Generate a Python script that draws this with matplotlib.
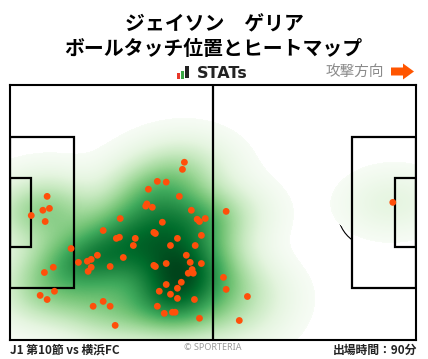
import numpy as np
import matplotlib
matplotlib.use("Agg")
import matplotlib.pyplot as plt
from matplotlib.patches import Rectangle, Arc, Circle, Polygon
from matplotlib.colors import PowerNorm

plt.rcParams['font.family'] = ['Noto Sans CJK JP', 'DejaVu Sans']

# ---- data (pitch metres: x 0-105 toward attack, y 0-68 from top) ----
touch_x = [45.1, 44.6, 38.1, 40.4, 35.8, 43.8, 9.6, 35.4, 35.1, 36.8,
           10.2, 8.5, 5.5, 46.9, 28.5, 48.4, 49.0, 50.5, 9.1, 39.4,
           24.1, 37.2, 37.6, 49.5, 28.3, 27.5, 32.4, 43.3, 31.9, 41.5,
           47.9, 15.8, 22.6, 29.3, 45.6, 17.7, 20.0, 21.0, 46.6, 49.5,
           40.4, 37.2, 37.6, 25.9, 21.0, 20.2, 11.2, 8.9, 47.1, 46.1,
           47.4, 44.3, 40.4, 43.3, 38.6, 11.5, 41.5, 7.8, 9.6, 43.3,
           47.7, 24.1, 21.5, 25.9, 38.1, 42.0, 42.7, 39.9, 49.0, 27.2,
           55.9, 55.2, 55.9, 61.4, 59.3, 99.0]
touch_y = [20.6, 22.5, 25.7, 25.9, 27.8, 29.7, 29.7, 31.7, 32.3, 32.6,
           32.9, 33.4, 34.8, 33.4, 35.6, 35.8, 36.4, 35.6, 36.4, 36.6,
           38.8, 39.3, 39.6, 40.1, 40.6, 40.9, 40.9, 40.9, 42.8, 42.8,
           42.8, 43.6, 45.4, 46.0, 45.4, 47.3, 47.0, 46.5, 47.3, 47.6,
           47.6, 48.1, 48.4, 48.4, 48.6, 49.7, 48.6, 50.0, 49.2, 50.2,
           50.2, 52.6, 53.2, 54.2, 55.0, 55.0, 55.8, 56.1, 57.2, 56.9,
           57.2, 57.7, 59.0, 59.0, 59.0, 60.6, 60.6, 60.9, 62.2, 64.1,
           33.7, 51.3, 54.5, 56.4, 62.8, 31.3]

player_name = "ジェイソン　ゲリア"
chart_title = "ボールタッチ位置とヒートマップ"
match_label = "J1 第10節 vs 横浜FC"
minutes_label = "出場時間：90分"

PITCH_L, PITCH_W = 105.0, 68.0

W, H = 428, 359
fig = plt.figure(figsize=(W / 100, H / 100), dpi=100)
fig.patch.set_facecolor('white')

# pitch axes (pixel box: x 10-416, y 85-340)
ax = fig.add_axes([10 / W, 1 - 340 / H, 406 / W, 255 / H])
ax.set_xticks([])
ax.set_yticks([])
for s in ax.spines.values():
    s.set_linewidth(1.5)
    s.set_color('black')
    s.set_zorder(6)

# KDE heat map
tx = np.asarray(touch_x)
ty = np.asarray(touch_y)
n = len(tx)
cov = np.cov(np.vstack([tx, ty])) * n ** (-2.0 / 6.0)
inv = np.linalg.inv(cov)
norm = 1.0 / (2 * np.pi * np.sqrt(np.linalg.det(cov)) * n)
NX, NY = 406, 255
gx, gy = np.meshgrid((np.arange(NX) + 0.5) * PITCH_L / NX, (np.arange(NY) + 0.5) * PITCH_W / NY)
Z = np.zeros_like(gx)
for px, py in zip(tx, ty):
    dx = gx - px
    dy = gy - py
    Z += np.exp(-0.5 * (inv[0, 0] * dx * dx + 2 * inv[0, 1] * dx * dy + inv[1, 1] * dy * dy))
Z *= norm
thresh = norm * np.exp(-0.5 * 4.3)
Zm = np.ma.masked_less(Z, thresh)
ax.imshow(Zm, extent=(0, PITCH_L, PITCH_W, 0), origin='upper', cmap='Greens',
          norm=PowerNorm(gamma=0.78, vmin=thresh, vmax=Z.max()),
          interpolation='nearest', zorder=1, aspect='auto')

ax.set_xlim(0, PITCH_L)
ax.set_ylim(PITCH_W, 0)

# thin pitch markings (under the heat map)
thin = dict(color='black', lw=0.8, fill=False, zorder=0.5)
ax.add_patch(Circle((PITCH_L / 2, PITCH_W / 2), 9.15, **thin))
ax.add_patch(Arc((11, PITCH_W / 2), 18.3, 18.3, theta1=-53, theta2=53, color='black', lw=0.8, zorder=0.5))
ax.add_patch(Arc((PITCH_L - 11, PITCH_W / 2), 18.3, 18.3, theta1=127, theta2=233, color='black', lw=0.8, zorder=0.5))

# thick pitch markings (over the heat map)
thick = dict(edgecolor='black', lw=1.6, fill=False, zorder=5)
ax.plot([PITCH_L / 2, PITCH_L / 2], [0, PITCH_W], color='black', lw=1.6, zorder=5)
ax.add_patch(Rectangle((0, PITCH_W / 2 - 20.16), 16.5, 40.32, **thick))
ax.add_patch(Rectangle((0, PITCH_W / 2 - 9.16), 5.5, 18.32, **thick))
ax.add_patch(Rectangle((PITCH_L - 16.5, PITCH_W / 2 - 20.16), 16.5, 40.32, **thick))
ax.add_patch(Rectangle((PITCH_L - 5.5, PITCH_W / 2 - 9.16), 5.5, 18.32, **thick))

# touch points
ax.scatter(tx, ty, s=24, color='#ff4f0a', edgecolors='none', zorder=7, clip_on=False)

# ---- overlay in pixel coords for header/footer ----
ov = fig.add_axes([0, 0, 1, 1], zorder=10)
ov.set_xlim(0, W)
ov.set_ylim(H, 0)
ov.axis('off')
ov.patch.set_alpha(0)

ov.text(214, 23.5, player_name, ha='center', va='center', fontsize=14.3, fontweight='bold', color='black')
ov.text(213, 48.5, chart_title, ha='center', va='center', fontsize=14.3, fontweight='bold', color='black')

# STATs logo
ov.add_patch(Rectangle((177, 73), 3, 5.5, color='#e8372a', lw=0))
ov.add_patch(Rectangle((181, 71), 3, 7.5, color='#3aa845', lw=0))
ov.add_patch(Rectangle((185, 66), 4, 12, color='#222222', lw=0))
ov.text(197, 73, "STATs", ha='left', va='center', fontsize=11.5, fontweight='bold',
        color='#222222', family='DejaVu Sans')

# attack direction
ov.text(384, 71.5, "攻撃方向", ha='right', va='center', fontsize=10.5, color='#8a8a8a')
ov.add_patch(Polygon([[391, 67.5], [403, 67.5], [403, 63.5], [414, 71.5], [403, 79.5],
                      [403, 75.5], [391, 75.5]], closed=True, color='#ff5500', lw=0))

# footer
ov.text(10, 350, match_label, ha='left', va='center', fontsize=8.5, fontweight='bold', color='#222222')
ov.text(213, 348, "© SPORTERIA", ha='center', va='center', fontsize=6.5, color='#9a9a9a',
        family=['Noto Sans', 'DejaVu Sans'])
ov.text(417, 350, minutes_label, ha='right', va='center', fontsize=8.5, fontweight='bold', color='#222222')

fig.savefig('out.png', dpi=100, facecolor='white')
